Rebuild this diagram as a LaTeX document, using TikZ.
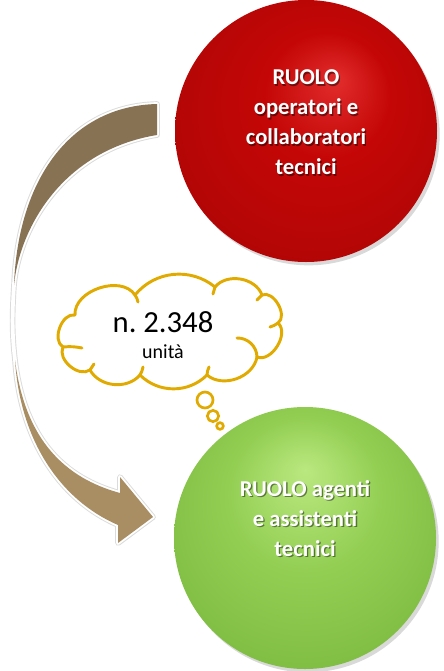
\documentclass[tikz,border=0pt]{standalone}
\usepackage{fontspec}
\setmainfont{Carlito}
\usetikzlibrary{shadows}

\definecolor{rosso}{RGB}{196,6,6}
\definecolor{rossochiaro}{RGB}{226,44,44}
\definecolor{rossoscuro}{RGB}{158,0,0}
\definecolor{verde}{RGB}{146,206,82}
\definecolor{verdechiaro}{RGB}{186,232,128}
\definecolor{verdescuro}{RGB}{124,186,64}
\definecolor{marrone}{RGB}{136,114,84}
\definecolor{marronechiaro}{RGB}{169,141,99}
\definecolor{oro}{RGB}{224,170,0}

\pgfdeclareradialshading{sferarossa}{\pgfpoint{6bp}{10bp}}{color(0bp)=(rossochiaro); color(12bp)=(rosso); color(27bp)=(rosso!92!black); color(37bp)=(rossoscuro)}
\pgfdeclareradialshading{sferaverde}{\pgfpoint{0bp}{13bp}}{color(0bp)=(verdechiaro); color(15bp)=(verde); color(32bp)=(verdescuro); color(40bp)=(verdescuro)}

% contorno della freccia curva
\newcommand{\freccia}{(157,104) .. controls (70,106) and (18,180) .. (14,285)
  .. controls (12,315) and (12,335) .. (15,360)
  .. controls (20,440) and (60,500) .. (118,525)
  -- (118,543) -- (153,517) -- (120,477) -- (120,493)
  .. controls (65,478) and (25,440) .. (15,360)
  .. controls (12,335) and (12,315) .. (14,285)
  .. controls (20,225) and (65,150) .. (157,135) -- cycle}
\newcommand{\frecciabassa}{(15,360)
  .. controls (20,440) and (60,500) .. (118,525)
  -- (118,543) -- (153,517) -- (120,477) -- (120,493)
  .. controls (65,478) and (25,440) .. (15,360) -- cycle}

\begin{document}
\begin{tikzpicture}[x=0.75pt, y=-0.75pt,
  cerchio/.style={circle, minimum size=196.5pt, inner sep=0pt,
    drop shadow={shadow xshift=2pt, shadow yshift=-2.5pt, opacity=.3}},
  testo/.style={text=white, font=\bfseries\fontsize{17}{22.5}\selectfont, align=center},
  ombratesto/.style={testo, text=black, opacity=.45},
  nuvola/.style={draw=oro, line width=2.2pt, line cap=round, line join=round},
  bolla/.style={circle, draw=oro, line width=2pt, fill=white, inner sep=0pt}]

\useasboundingbox (0,0) rectangle (443,671);

% freccia
\fill[marrone, drop shadow={shadow xshift=1.5pt, shadow yshift=-1.5pt, opacity=.2}] \freccia;
\fill[marronechiaro] \frecciabassa;
\draw[black!14, line width=4.2pt, line join=round] \freccia;
\draw[white, line width=2.8pt, line join=round] \freccia;
\fill[marrone] (157,104) .. controls (70,106) and (18,180) .. (14,285)
  .. controls (20,225) and (65,150) .. (157,135) -- cycle;
\fill[marronechiaro] \frecciabassa;

% cerchi
\node[cerchio, shading=sferarossa] (rosso) at (306,131) {};
\node[cerchio, shading=sferaverde] (verde) at (305,538) {};

\node[ombratesto] at ([xshift=1pt, yshift=5.5pt]rosso.center) {RUOLO\\operatori e\\collaboratori\\tecnici};
\node[testo] at ([yshift=6.5pt]rosso.center) {RUOLO\\operatori e\\collaboratori\\tecnici};
\node[ombratesto] at ([xshift=1pt, yshift=13.5pt]verde.center) {RUOLO agenti\\e assistenti\\tecnici};
\node[testo] at ([yshift=14.5pt]verde.center) {RUOLO agenti\\e assistenti\\tecnici};

% nuvoletta
\node[bolla, minimum size=12pt] (b1) at (205,400) {};
\node[bolla, minimum size=8.5pt] (b2) at (213,416) {};
\node[bolla, minimum size=5pt] (b3) at (220,426) {};
\filldraw[nuvola, fill=white] (63,347) to[bend left=80] (75,315) to[bend left=75] (135,295)
  to[bend left=45] (215,287) to[bend left=60] (262,295) to[bend left=85] (278,323)
  to[bend left=80] (257,357) to[bend left=60] (207,375) to[bend left=45] (140,375)
  to[bend left=55] (90,370) to[bend left=75] cycle;
\draw[nuvola] (135,295) to[bend left=10] (138,302);
\draw[nuvola] (215,287) to[bend right=10] (213,294);
\draw[nuvola] (262,295) to[bend right=10] (257,300);
\draw[nuvola] (278,323) to[bend left=10] (270,327);
\draw[nuvola] (237,338) to[bend left=45] (257,357);
\draw[nuvola] (207,375) to[bend left=10] (209,367);
\draw[nuvola] (140,375) to[bend right=10] (143,367);
\draw[nuvola] (90,370) to[bend right=10] (94,364);
\draw[nuvola] (63,347) to[bend left=8] (82,348);
\node[font=\fontsize{23}{26}\selectfont] (numero) at (163,322) {n.\ 2.348};
\node[font=\fontsize{15}{18}\selectfont] (unita) at (163,352) {unità};

\end{tikzpicture}
\end{document}
